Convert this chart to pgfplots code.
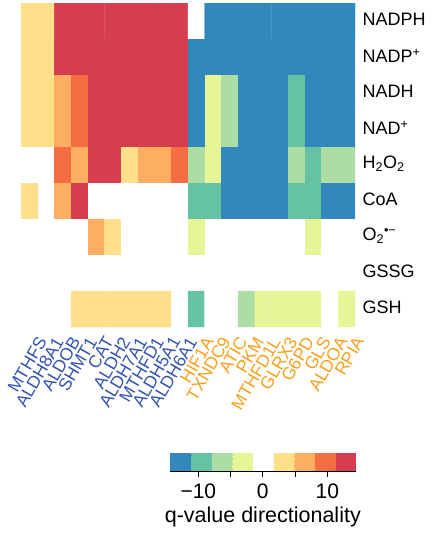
\documentclass[border=0pt]{standalone}
\usepackage{fontspec}
\setmainfont{Liberation Sans}
\usepackage{pgfplots}
\pgfplotsset{compat=1.18}
\definecolor{gblue}{RGB}{52,84,176}
\definecolor{gorange}{RGB}{248,160,30}
\begin{document}
\begin{tikzpicture}[x=1pt,y=1pt]
\begin{axis}[
  at={(21pt,206pt)}, anchor=south west,
  scale only axis, width=334pt, height=324pt,
  xmin=-0.5, xmax=19.5, ymin=-0.5, ymax=8.5, y dir=reverse,
  axis line style={draw=none},
  major tick length=0pt,
  xtick={0,...,19}, ytick={0,...,8},
  xticklabels={{\textcolor{gblue}{MTHFS}},{\textcolor{gblue}{ALDH8A1}},{\textcolor{gblue}{ALDOB}},{\textcolor{gblue}{SHMT1}},{\textcolor{gblue}{CAT}},{\textcolor{gblue}{ALDH2}},{\textcolor{gblue}{ALDH7A1}},{\textcolor{gblue}{MTHFD1}},{\textcolor{gblue}{ALDH5A1}},{\textcolor{gblue}{ALDH6A1}},{\textcolor{gorange}{HIF1A}},{\textcolor{gorange}{TXNDC9}},{\textcolor{gorange}{ATIC}},{\textcolor{gorange}{PKM}},{\textcolor{gorange}{MTHFD1L}},{\textcolor{gorange}{GLRX3}},{\textcolor{gorange}{G6PD}},{\textcolor{gorange}{GLS}},{\textcolor{gorange}{ALDOA}},{\textcolor{gorange}{RPIA}}},
  yticklabels={NADPH,NADP\textsuperscript{+},NADH,NAD\textsuperscript{+},H\textsubscript{2}O\textsubscript{2},CoA,O\textsubscript{2}\textsuperscript{•−},GSSG,GSH},
  yticklabel pos=right,
  yticklabel style={anchor=west, font=\fontsize{18}{20}\selectfont, xshift=4pt, yshift=1.5pt},
  xticklabel style={rotate=60, anchor=east, font=\fontsize{17.5}{19}\selectfont, yshift=-17pt, xshift=0pt},
  colormap={spec}{rgb255=(50,136,189) rgb255=(102,194,165) rgb255=(171,221,164) rgb255=(230,245,152) rgb255=(255,255,255) rgb255=(254,224,139) rgb255=(253,174,97) rgb255=(244,109,67) rgb255=(213,62,79)},
  colormap access=piecewise constant,
  point meta min=-14.4, point meta max=14.4,
  colorbar horizontal,
  colorbar style={
    at={(1.002,-0.3889)}, anchor=north east,
    scale only axis, width=185.7pt, height=18.7pt,
    axis y line=none, axis x line*=bottom,
    axis line style={black, line width=0.9pt},
    xtick={-10,-5,0,5,10},
    xticklabels={−10,,0,,10},
    xtick align=outside,
    major tick length=5pt,
    xtick style={black, line width=0.9pt},
    xticklabel style={font=\fontsize{21}{23}\selectfont, yshift=-4pt},
    xlabel={q-value directionality},
    xlabel style={font=\fontsize{21.5}{23}\selectfont, yshift=-1pt},
    ytick=\empty,
  },
]
\addplot[matrix plot*, mesh/cols=20, point meta=explicit] coordinates {
(0,0)[3.2] (1,0)[3.2] (2,0)[12.8] (3,0)[12.8] (4,0)[12.8] (5,0)[12.8] (6,0)[12.8] (7,0)[12.8] (8,0)[12.8] (9,0)[12.8] (10,0)[0] (11,0)[-12.8] (12,0)[-12.8] (13,0)[-12.8] (14,0)[-12.8] (15,0)[-12.8] (16,0)[-12.8] (17,0)[-12.8] (18,0)[-12.8] (19,0)[-12.8]

(0,1)[3.2] (1,1)[3.2] (2,1)[12.8] (3,1)[12.8] (4,1)[12.8] (5,1)[12.8] (6,1)[12.8] (7,1)[12.8] (8,1)[12.8] (9,1)[12.8] (10,1)[-12.8] (11,1)[-12.8] (12,1)[-12.8] (13,1)[-12.8] (14,1)[-12.8] (15,1)[-12.8] (16,1)[-12.8] (17,1)[-12.8] (18,1)[-12.8] (19,1)[-12.8]

(0,2)[3.2] (1,2)[3.2] (2,2)[6.4] (3,2)[9.6] (4,2)[12.8] (5,2)[12.8] (6,2)[12.8] (7,2)[12.8] (8,2)[12.8] (9,2)[12.8] (10,2)[-12.8] (11,2)[-3.2] (12,2)[-6.4] (13,2)[-12.8] (14,2)[-12.8] (15,2)[-12.8] (16,2)[-9.6] (17,2)[-12.8] (18,2)[-12.8] (19,2)[-12.8]

(0,3)[3.2] (1,3)[3.2] (2,3)[6.4] (3,3)[9.6] (4,3)[12.8] (5,3)[12.8] (6,3)[12.8] (7,3)[12.8] (8,3)[12.8] (9,3)[12.8] (10,3)[-12.8] (11,3)[-3.2] (12,3)[-6.4] (13,3)[-12.8] (14,3)[-12.8] (15,3)[-12.8] (16,3)[-9.6] (17,3)[-12.8] (18,3)[-12.8] (19,3)[-12.8]

(0,4)[0] (1,4)[0] (2,4)[9.6] (3,4)[6.4] (4,4)[12.8] (5,4)[12.8] (6,4)[3.2] (7,4)[6.4] (8,4)[6.4] (9,4)[9.6] (10,4)[-6.4] (11,4)[-3.2] (12,4)[-12.8] (13,4)[-12.8] (14,4)[-12.8] (15,4)[-12.8] (16,4)[-6.4] (17,4)[-9.6] (18,4)[-6.4] (19,4)[-6.4]

(0,5)[3.2] (1,5)[0] (2,5)[6.4] (3,5)[12.8] (4,5)[0] (5,5)[0] (6,5)[0] (7,5)[0] (8,5)[0] (9,5)[0] (10,5)[-9.6] (11,5)[-9.6] (12,5)[-12.8] (13,5)[-12.8] (14,5)[-12.8] (15,5)[-12.8] (16,5)[-9.6] (17,5)[-9.6] (18,5)[-12.8] (19,5)[-12.8]

(0,6)[0] (1,6)[0] (2,6)[0] (3,6)[0] (4,6)[6.4] (5,6)[3.2] (6,6)[0] (7,6)[0] (8,6)[0] (9,6)[0] (10,6)[-3.2] (11,6)[0] (12,6)[0] (13,6)[0] (14,6)[0] (15,6)[0] (16,6)[0] (17,6)[-3.2] (18,6)[0] (19,6)[0]

(0,7)[0] (1,7)[0] (2,7)[0] (3,7)[0] (4,7)[0] (5,7)[0] (6,7)[0] (7,7)[0] (8,7)[0] (9,7)[0] (10,7)[0] (11,7)[0] (12,7)[0] (13,7)[0] (14,7)[0] (15,7)[0] (16,7)[0] (17,7)[0] (18,7)[0] (19,7)[0]

(0,8)[0] (1,8)[0] (2,8)[0] (3,8)[3.2] (4,8)[3.2] (5,8)[3.2] (6,8)[3.2] (7,8)[3.2] (8,8)[3.2] (9,8)[0] (10,8)[-9.6] (11,8)[0] (12,8)[0] (13,8)[-6.4] (14,8)[-3.2] (15,8)[-3.2] (16,8)[-3.2] (17,8)[-3.2] (18,8)[0] (19,8)[-3.2]
};
\end{axis}
\node[inner sep=0pt, font=\bfseries\fontsize{24}{24}\selectfont] at (-6.5,516.5) {c};
\pgfresetboundingbox
\useasboundingbox (0,0) rectangle (438,533);
\end{tikzpicture}
\end{document}
